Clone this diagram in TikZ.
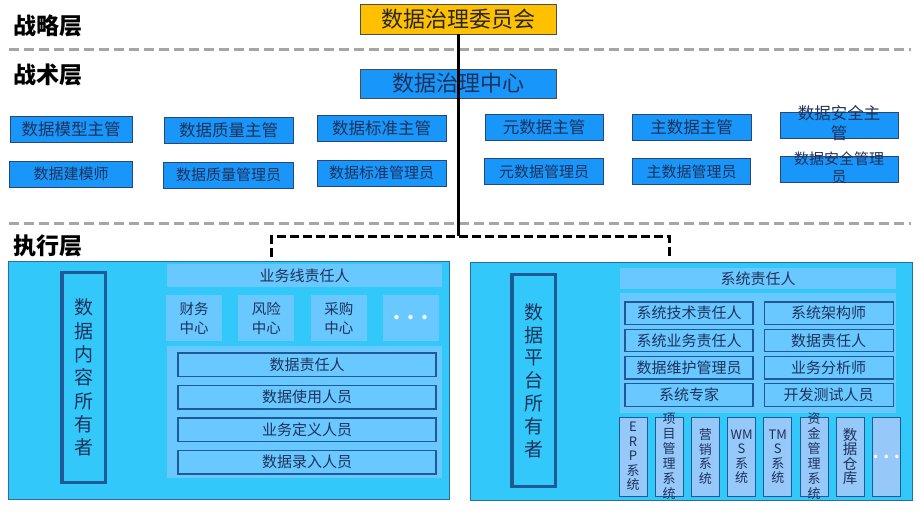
\documentclass[tikz,border=0pt]{standalone}
\usepackage{fontspec}
\setmainfont{Noto Sans CJK SC}
\usetikzlibrary{positioning}

\definecolor{govgold}{RGB}{255,192,0}
\definecolor{tacblue}{RGB}{25,150,250}
\definecolor{tacline}{RGB}{40,70,120}
\definecolor{panelcyan}{RGB}{50,200,250}
\definecolor{panelline}{RGB}{40,110,160}
\definecolor{bandblue}{RGB}{105,200,255}
\definecolor{sysblue}{RGB}{150,200,250}
\definecolor{ownerline}{RGB}{30,90,150}
\definecolor{inkblue}{RGB}{30,50,90}

\begin{document}
\begin{tikzpicture}[x=1pt, y=-1pt,
    layertitle/.style={font=\fontsize{23}{26}\selectfont\bfseries, text=black},
    topbox/.style={draw=black!70, line width=0.8pt, minimum width=196pt,
        minimum height=30pt, inner sep=0pt, font=\fontsize{22}{24}\selectfont},
    tacbox/.style={fill=tacblue, draw=tacline, line width=0.8pt, minimum height=26pt,
        inner sep=0pt, text=inkblue, font=\fontsize{16.5}{20}\selectfont},
    tacwrap/.style={align=center, inner sep=0pt, text=inkblue},
    panel/.style={fill=panelcyan, draw=panelline, line width=0.6pt,
        minimum width=441pt, minimum height=238pt, inner sep=0pt},
    owner/.style={draw=ownerline, line width=3.5pt, minimum width=43.5pt,
        minimum height=209.5pt, inner sep=0pt, align=center, text=inkblue},
    band/.style={fill=bandblue, inner sep=0pt, text=inkblue,
        font=\fontsize{15}{18}\selectfont},
    unitbox/.style={band, minimum width=56pt, minimum height=46pt, align=center,
        font=\fontsize{14.5}{19}\selectfont},
    rolebox/.style={band, draw=ownerline, line width=1.2pt, minimum width=258pt,
        minimum height=23.5pt},
    sysrole/.style={band, draw=ownerline, line width=1.2pt, minimum width=128pt,
        minimum height=22.5pt},
    sysbox/.style={fill=sysblue, draw=ownerline, line width=0.8pt, minimum width=28pt,
        minimum height=79pt, inner sep=0pt},
    systext/.style={align=center, inner sep=0pt, text=inkblue,
        font=\fontsize{13}{14.5}\selectfont},
    dots/.style={text=white, inner sep=0pt, font=\bfseries},
    divider/.style={draw=black!35, line width=3pt, dash pattern=on 10pt off 5pt},
    dashlink/.style={draw=black, line width=3pt, dash pattern=on 9pt off 4pt},
    mainlink/.style={draw=black, line width=3pt}
    ]
    \useasboundingbox (0,0) rectangle (920,518);

    % layer titles and dividers
    \node[layertitle] (strat) at (48,26) {战略层};
    \node[layertitle] (tact) at (48,75) {战术层};
    \node[layertitle] (exec) at (48,246) {执行层};
    \draw[divider] (9,50) -- (911,50);
    \draw[divider] (9,224) -- (911,224);

    % committee and centre
    \node[topbox, fill=govgold, text=black!85] (com) at (458,19) {数据治理委员会};
    \node[topbox, fill=tacblue, text=inkblue, minimum height=29pt] (ctr) at (458,83.5) {数据治理中心};

    % tactical roles
    \node[tacbox, minimum width=122pt] (mdlmgr) at (71,129) {数据模型主管};
    \node[tacbox, minimum width=129pt] (qltmgr) at (228.5,130) {数据质量主管};
    \node[tacbox, minimum width=129pt] (stdmgr) at (381.5,128) {数据标准主管};
    \node[tacbox, minimum width=118pt] (metamgr) at (544,127) {元数据主管};
    \node[tacbox, minimum width=119pt] (mastmgr) at (691.5,127) {主数据主管};
    \node[tacbox, minimum width=118pt] (secmgr) at (839,125) {};
    \node[tacwrap, font=\fontsize{16.5}{20}\selectfont] (secmgrtxt) at ([yshift=2pt]secmgr.center) {数据安全主\\管};
    \node[tacbox, minimum width=123pt, font=\fontsize{15}{18}\selectfont,
        below=18.5pt of mdlmgr] (modeler) {数据建模师};
    \node[tacbox, minimum width=130pt, font=\fontsize{15}{18}\selectfont,
        below=18.5pt of qltmgr] (qltadm) {数据质量管理员};
    \node[tacbox, minimum width=129pt, font=\fontsize{15}{18}\selectfont,
        below=18.5pt of stdmgr] (stdadm) {数据标准管理员};
    \node[tacbox, minimum width=119pt, font=\fontsize{15}{18}\selectfont,
        below=18pt of metamgr] (metaadm) {元数据管理员};
    \node[tacbox, minimum width=118pt, font=\fontsize{15}{18}\selectfont,
        below=18pt of mastmgr] (mastadm) {主数据管理员};
    \node[tacbox, minimum width=118pt, below=18pt of secmgr] (secadm) {};
    \node[tacwrap, font=\fontsize{15}{18}\selectfont] (secadmtxt) at ([yshift=2pt]secadm.center) {数据安全管理\\员};

    % left execution panel
    \node[panel] (lp) at (228.5,380) {};
    \node[owner, font=\fontsize{19}{23.3}\selectfont] (cowner) at (83.5,377.5) {数\\据\\内\\容\\所\\有\\者};
    \node[band, minimum width=275pt, minimum height=23pt] (lhead) at (304.5,275.5) {业务线责任人};
    \node[unitbox] (fin) at (194,318) {财务\\中心};
    \node[unitbox, right=16pt of fin] (risk) {风险\\中心};
    \node[unitbox, right=16pt of risk] (buy) {采购\\中心};
    \node[unitbox, right=16pt of buy, dots, font=\fontsize{20}{20}\selectfont\bfseries] (more) {.\hspace{7pt}.\hspace{7pt}.};
    \node[band, minimum width=275pt, minimum height=132pt] (lband) at (304.5,412) {};
    \node[rolebox] (owner1) at (307,364.75) {数据责任人};
    \node[rolebox, below=7.8pt of owner1] (user) {数据使用人员};
    \node[rolebox, below=7.8pt of user] (definer) {业务定义人员};
    \node[rolebox, below=7.8pt of definer] (entry) {数据录入人员};

    % right execution panel
    \node[panel, minimum width=442pt] (rp) at (691,381) {};
    \node[owner, minimum height=211.5pt, font=\fontsize{19}{22.8}\selectfont] (powner) at (533.5,380.5) {数\\据\\平\\台\\所\\有\\者};
    \node[band, minimum width=276pt, minimum height=21pt] (rhead) at (758,278.5) {系统责任人};
    \node[band, minimum width=276pt, minimum height=120pt] (rband) at (758,353) {};
    \node[sysrole] (techown) at (689,313.25) {系统技术责任人};
    \node[sysrole, below=3.5pt of techown] (bizown) {系统业务责任人};
    \node[sysrole, below=3.5pt of bizown] (maint) {数据维护管理员};
    \node[sysrole, below=3.5pt of maint] (expert) {系统专家};
    \node[sysrole, minimum width=129pt, right=10pt of techown] (arch) {系统架构师};
    \node[sysrole, minimum width=129pt, right=10pt of bizown] (dataown) {数据责任人};
    \node[sysrole, minimum width=129pt, right=10pt of maint] (analyst) {业务分析师};
    \node[sysrole, minimum width=129pt, right=10pt of expert] (tester) {开发测试人员};

    % systems
    \node[sysbox] (erp) at (633,456.5) {};
    \node[sysbox, right=7.4pt of erp] (pms) {};
    \node[sysbox, right=7.4pt of pms] (mkt) {};
    \node[sysbox, right=7.4pt of mkt] (wms) {};
    \node[sysbox, right=7.4pt of wms] (tms) {};
    \node[sysbox, right=7.4pt of tms] (fund) {};
    \node[sysbox, right=7.4pt of fund] (dwh) {};
    \node[sysbox, right=7.4pt of dwh] (sysmore) {};
    \node[systext] (erptxt) at (erp) {E\\R\\P\\系\\统};
    \node[systext, font=\fontsize{13}{15}\selectfont] (pmstxt) at (pms) {项\\目\\管\\理\\系\\统};
    \node[systext] (mkttxt) at (mkt) {营\\销\\系\\统};
    \node[systext] (wmstxt) at (wms) {WM\\S\\系\\统};
    \node[systext] (tmstxt) at (tms) {TM\\S\\系\\统};
    \node[systext, font=\fontsize{13}{15}\selectfont] (fundtxt) at (fund) {资\\金\\管\\理\\系\\统};
    \node[systext, font=\fontsize{14.5}{14.5}\selectfont] (dwhtxt) at (dwh) {数\\据\\仓\\库};
    \node[dots, font=\fontsize{16}{16}\selectfont\bfseries] (sysdots) at (sysmore) {.\hspace{5pt}.\hspace{5pt}.};

    % links
    \coordinate (jn) at (458,236.5);
    \coordinate (lend) at (271,257);
    \coordinate (rend) at (669,256);
    \draw[mainlink] (com.south) -- (jn);
    \draw[dashlink] (lend) |- (jn) -| (rend);
\end{tikzpicture}
\end{document}
